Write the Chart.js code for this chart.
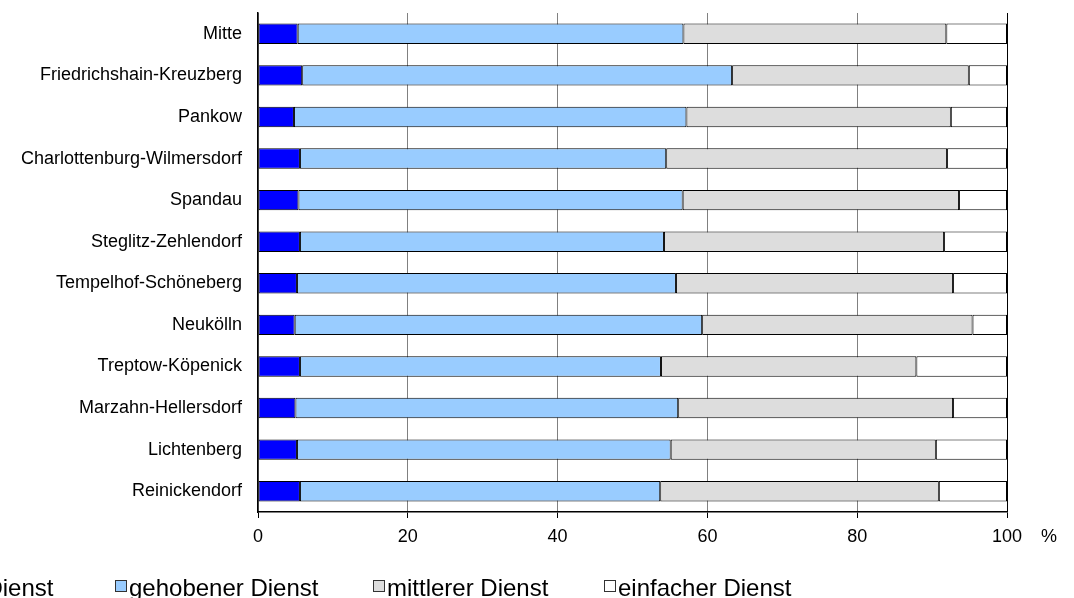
<!DOCTYPE html>
<html>
<head>
<meta charset="utf-8">
<script src="https://cdn.jsdelivr.net/npm/chart.js@4.4.1/dist/chart.umd.min.js"></script>
<style>
  html, body { margin:0; padding:0; background:#fff; width:1074px; height:598px; overflow:hidden; }
  #wrap { position:absolute; left:0; top:0; width:1074px; height:598px; }
  #legend { position:absolute; left:0; top:576px; height:24px; width:1074px;
            font-family:"Liberation Sans", Arial, sans-serif; font-size:24px; line-height:24px; color:#000; white-space:nowrap; }
  .item { position:absolute; top:0; height:24px; display:flex; align-items:center; }
  .box { width:10px; height:10px; border:1px solid #333; margin-right:2px; position:relative; top:-2px; }
</style>
</head>
<body>
<div id="wrap"><canvas id="c" width="1074" height="598"></canvas></div>
<div id="legend"></div>
<script>
// ---- data ----
const categories = [
  "Mitte", "Friedrichshain-Kreuzberg", "Pankow", "Charlottenburg-Wilmersdorf",
  "Spandau", "Steglitz-Zehlendorf", "Tempelhof-Schöneberg", "Neukölln",
  "Treptow-Köpenick", "Marzahn-Hellersdorf", "Lichtenberg", "Reinickendorf"
];
const hoehererDienst   = [5.3, 5.9, 4.8, 5.6, 5.4, 5.6, 5.2, 4.9, 5.6, 5.0, 5.2, 5.6];
const gehobenerDienst  = [51.5, 57.4, 52.4, 48.9, 51.3, 48.6, 50.6, 54.4, 48.2, 51.1, 49.9, 48.1];
const mittlererDienst  = [35.1, 31.6, 35.3, 37.5, 36.9, 37.4, 37.0, 36.1, 34.1, 36.7, 35.4, 37.2];
const einfacherDienst  = [8.1, 5.1, 7.5, 8.0, 6.4, 8.4, 7.2, 4.6, 12.1, 7.2, 9.5, 9.1];
const seriesLabels = ["höherer Dienst", "gehobener Dienst", "mittlerer Dienst", "einfacher Dienst"];
const xTickValues = [0, 20, 40, 60, 80, 100];
const unitLabel = "%";

// ---- styles / layout ----
const FONT = '"Liberation Sans", Arial, sans-serif';
const seriesColors = ["#0000FF", "#99CCFF", "#DDDDDD", "#FFFFFF"];
const legendLeft = [-118, 115, 373, 604];

const seriesData = [hoehererDienst, gehobenerDienst, mittlererDienst, einfacherDienst];
const datasets = seriesData.map((d, i) => ({
  label: seriesLabels[i],
  data: d,
  backgroundColor: seriesColors[i],
  borderColor: "#000",
  borderWidth: 1,
  borderSkipped: false,
  barPercentage: 0.49,
  categoryPercentage: 1.0
}));

const unitPlugin = {
  id: "unitLabel",
  afterDraw(chart) {
    const xs = chart.scales.x;
    const ctx = chart.ctx;
    ctx.save();
    ctx.font = "18px " + FONT;
    ctx.fillStyle = "#000";
    ctx.textAlign = "left";
    ctx.textBaseline = "middle";
    ctx.fillText(unitLabel, xs.right + 34, xs.top + 6 + 8 + 10.8);
    ctx.restore();
  }
};

new Chart(document.getElementById("c"), {
  type: "bar",
  data: { labels: categories, datasets },
  options: {
    indexAxis: "y",
    responsive: false,
    animation: false,
    layout: { padding: { left: 0, right: 67, top: 13, bottom: 0 } },
    plugins: { legend: { display: false }, tooltip: { enabled: false } },
    scales: {
      x: {
        type: "linear",
        stacked: true,
        min: 0, max: 100,
        afterBuildTicks: s => { s.ticks = xTickValues.map(v => ({ value: v })); },
        afterFit: s => { s.height = 86; s.paddingLeft = 0; s.paddingRight = 0; },
        grid: {
          color: c => (c.tick && c.tick.value === 100) ? "#000" : "#808080",
          lineWidth: 1,
          tickLength: 6,
          tickColor: "#000"
        },
        border: { display: true, color: "#000", width: 1.5 },
        ticks: { padding: 8, color: "#000", maxRotation: 0, font: { size: 18, family: FONT } }
      },
      y: {
        stacked: true,
        afterFit: s => { s.width = 258; s.paddingTop = 0; s.paddingBottom = 0; },
        grid: { display: false, drawTicks: false },
        border: { display: true, color: "#000", width: 1.5 },
        ticks: { padding: 16, color: "#000", font: { size: 18, family: FONT } }
      }
    }
  },
  plugins: [unitPlugin]
});

// ---- legend (HTML) ----
const leg = document.getElementById("legend");
seriesLabels.forEach((lab, i) => {
  const it = document.createElement("div");
  it.className = "item";
  it.style.left = legendLeft[i] + "px";
  const b = document.createElement("span");
  b.className = "box";
  b.style.background = seriesColors[i];
  const t = document.createElement("span");
  t.textContent = lab;
  it.appendChild(b); it.appendChild(t);
  leg.appendChild(it);
});
</script>
</body>
</html>
